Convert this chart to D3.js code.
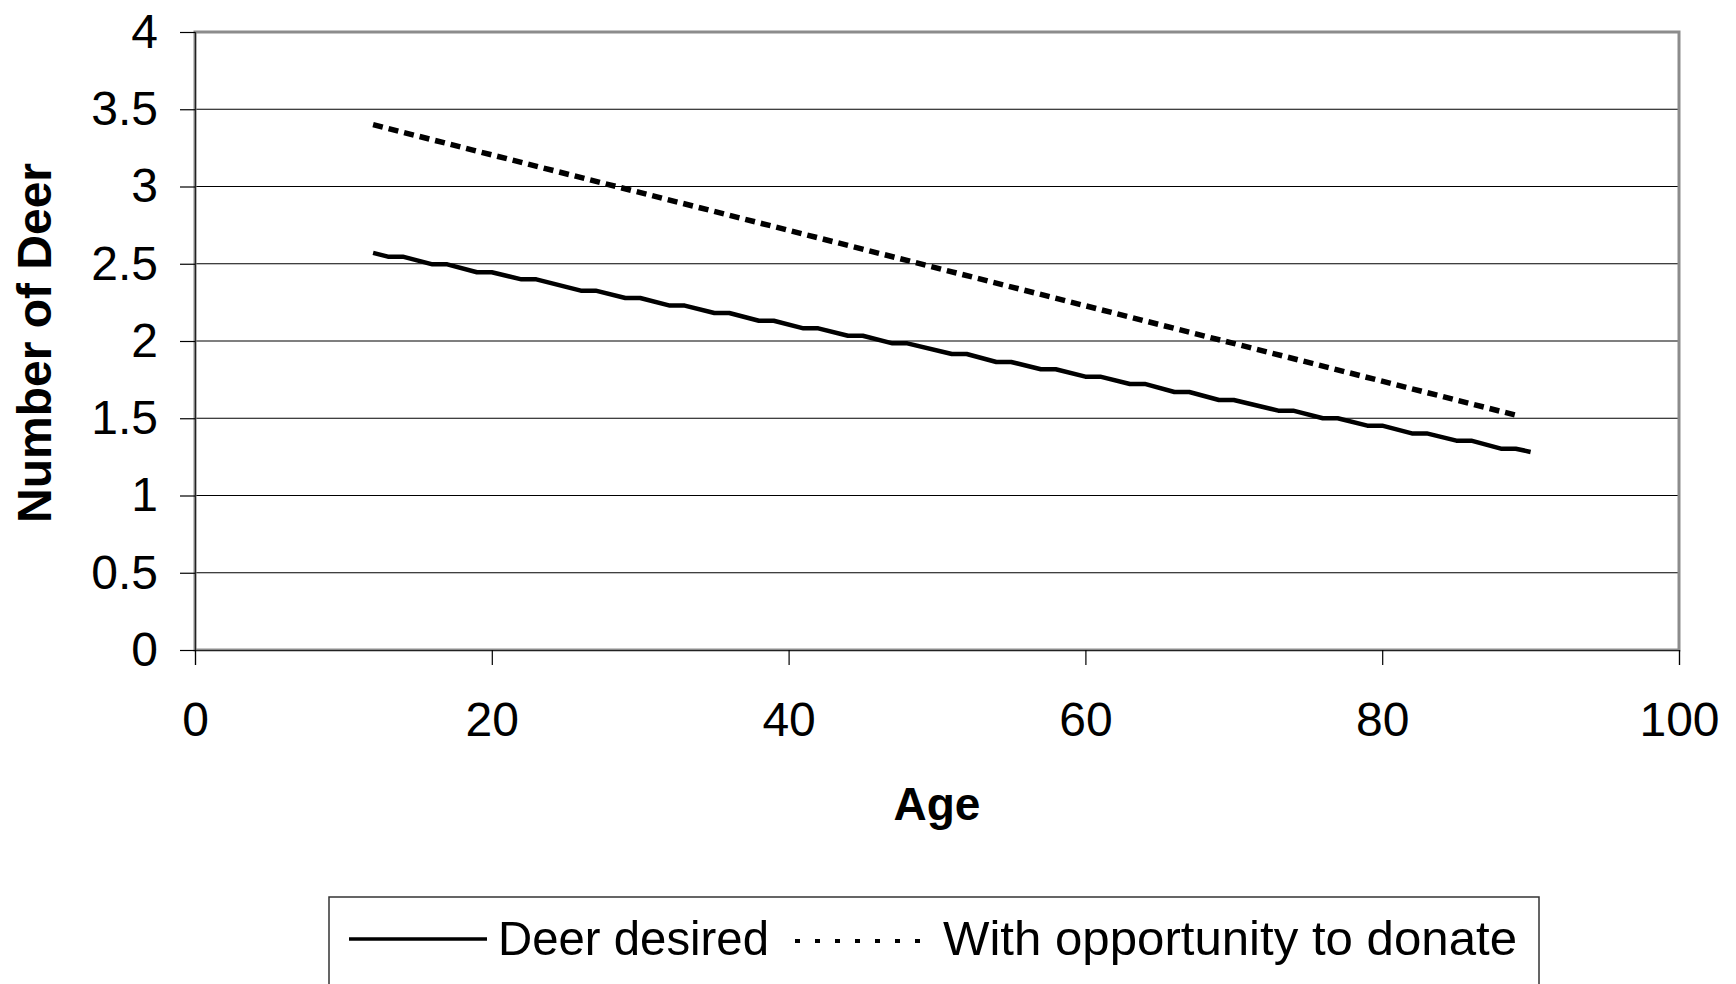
<!DOCTYPE html>
<html>
<head>
<meta charset="utf-8">
<script src="https://cdn.jsdelivr.net/npm/d3@7/dist/d3.min.js"></script>
<style>
  html, body { margin: 0; padding: 0; background: #fff; }
  svg { display: block; }
  text { font-family: "Liberation Sans", Arial, Helvetica, sans-serif; fill: #000; }
</style>
</head>
<body>
<svg id="chart" width="1736" height="984"></svg>
<script>
// ---- data ----
const xTicks = [0, 20, 40, 60, 80, 100];
const xTickLabels = ["0", "20", "40", "60", "80", "100"];
const yTicks = [0, 0.5, 1, 1.5, 2, 2.5, 3, 3.5, 4];
const yTickLabels = ["0", "0.5", "1", "1.5", "2", "2.5", "3", "3.5", "4"];

const seriesNames = ["Deer desired", "With opportunity to donate"];

// "Deer desired" (solid): vertices of the drawn line
const desiredAges = [12,13,14,16,17,19,20,22,23,26,27,29,30,32,33,35,36,38,39,41,42,44,45,47,48,51,52,54,55,57,58,60,61,63,64,66,67,69,70,73,74,76,77,79,80,82,83,85,86,88,89,90];
const desiredValues = [2.57,2.546,2.546,2.496,2.496,2.445,2.445,2.399,2.399,2.326,2.326,2.278,2.278,2.229,2.229,2.181,2.181,2.131,2.131,2.082,2.082,2.034,2.034,1.985,1.985,1.916,1.916,1.864,1.864,1.817,1.817,1.769,1.769,1.722,1.722,1.670,1.670,1.618,1.618,1.549,1.549,1.500,1.500,1.452,1.452,1.402,1.402,1.355,1.355,1.303,1.303,1.282];

// "With opportunity to donate" (dotted)
const donateAges = [12, 89];
const donateValues = [3.40, 1.52];

// ---- drawing ----
const W = 1736, H = 984;
const plot = { left: 195, right: 1679, top: 32, bottom: 650 };

const svg = d3.select("#chart");
svg.append("rect").attr("width", W).attr("height", H).attr("fill", "#fff");

const x = d3.scaleLinear().domain([0, 100]).range([plot.left, plot.right]);
const y = d3.scaleLinear().domain([0, 4]).range([plot.bottom, plot.top]);

// gridlines
svg.append("g")
  .selectAll("line")
  .data(yTicks.filter(d => d > 0 && d < 4))
  .join("line")
  .attr("x1", plot.left).attr("x2", plot.right)
  .attr("y1", d => y(d)).attr("y2", d => y(d))
  .attr("stroke", "#000").attr("stroke-width", 1.2);

// plot frame
svg.append("rect")
  .attr("x", plot.left).attr("y", plot.top)
  .attr("width", plot.right - plot.left).attr("height", plot.bottom - plot.top)
  .attr("fill", "none").attr("stroke", "#8c8c8c").attr("stroke-width", 3);

// axes
const yAxis = d3.axisLeft(y)
  .tickValues(yTicks)
  .tickFormat((d, i) => yTickLabels[i])
  .tickSize(15).tickPadding(22);
const gy = svg.append("g").attr("transform", `translate(${plot.left},0)`).call(yAxis);

const xAxis = d3.axisBottom(x)
  .tickValues(xTicks)
  .tickFormat((d, i) => xTickLabels[i])
  .tickSize(15).tickPadding(37);
const gx = svg.append("g").attr("transform", `translate(0,${plot.bottom})`).call(xAxis);

[gx, gy].forEach(g => {
  g.select(".domain").attr("stroke", "#222").attr("stroke-width", 1.2);
  g.selectAll(".tick line").attr("stroke", "#000").attr("stroke-width", 1.2);
  g.selectAll(".tick text")
    .style("font-family", '"Liberation Sans", Arial, sans-serif')
    .style("font-size", "48px").attr("fill", "#000");
});

// lines
const line = d3.line().x(d => x(d[0])).y(d => y(d[1]));
const desiredData = desiredAges.map((a, i) => [a, desiredValues[i]]);
const donateData = donateAges.map((a, i) => [a, donateValues[i]]);

svg.append("path")
  .datum(donateData)
  .attr("d", line)
  .attr("fill", "none").attr("stroke", "#000")
  .attr("stroke-width", 5.5).attr("stroke-dasharray", "10,6");

svg.append("path")
  .datum(desiredData)
  .attr("d", line)
  .attr("fill", "none").attr("stroke", "#000")
  .attr("stroke-width", 4.5).attr("stroke-linejoin", "round");

// axis titles
svg.append("text")
  .attr("x", (plot.left + plot.right) / 2).attr("y", 820)
  .attr("text-anchor", "middle")
  .style("font-size", "46px").style("font-weight", "bold")
  .text("Age");

svg.append("text")
  .attr("transform", `translate(51,${(plot.top + plot.bottom) / 2 + 2}) rotate(-90)`)
  .attr("text-anchor", "middle")
  .style("font-size", "48px").style("font-weight", "bold")
  .text("Number of Deer");

// legend
const lg = svg.append("g");
lg.append("rect")
  .attr("x", 329).attr("y", 897).attr("width", 1210).attr("height", 120)
  .attr("fill", "#fff").attr("stroke", "#333").attr("stroke-width", 1.5);

lg.append("line")
  .attr("x1", 349).attr("x2", 487).attr("y1", 939).attr("y2", 939)
  .attr("stroke", "#000").attr("stroke-width", 3.5);
lg.append("text").attr("x", 498).attr("y", 955)
  .style("font-size", "49px")
  .attr("textLength", 271).attr("lengthAdjust", "spacingAndGlyphs")
  .text(seriesNames[0]);

lg.append("line")
  .attr("x1", 795).attr("x2", 932).attr("y1", 941).attr("y2", 941)
  .attr("stroke", "#000").attr("stroke-width", 4).attr("stroke-dasharray", "5,15");
lg.append("text").attr("x", 943).attr("y", 955)
  .style("font-size", "49px")
  .attr("textLength", 574).attr("lengthAdjust", "spacingAndGlyphs")
  .text(seriesNames[1]);
</script>
</body>
</html>
